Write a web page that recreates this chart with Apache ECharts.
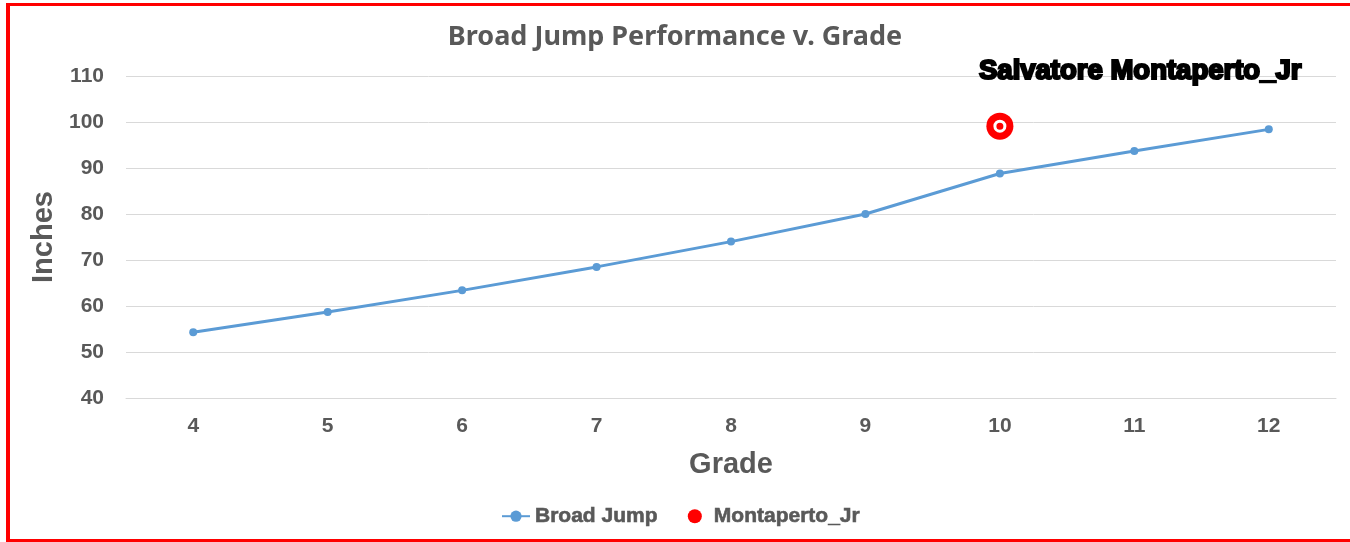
<!DOCTYPE html>
<html>
<head>
<meta charset="utf-8">
<script src="https://cdn.jsdelivr.net/npm/echarts@6/dist/echarts.min.js"></script>
<style>
    body { margin: 0; background: #fff; }
    #chart { position: absolute; left: 0; top: 0; width: 1350px; height: 542px; }
    #frame {
        position: absolute; left: 6px; top: 3px; width: 1342px; height: 533px;
        border-left: 4px solid #ff0000; border-top: 3px solid #ff0000; border-bottom: 3px solid #ff0000;
        border-right: 1px solid #fde4e4;
        pointer-events: none;
    }
</style>
</head>
<body>
<div id="chart"></div>
<div id="frame"></div>
<script>
var grades = ['4', '5', '6', '7', '8', '9', '10', '11', '12'];
var broadJump = [54.3, 58.7, 63.4, 68.5, 74.0, 80.0, 88.8, 93.7, 98.4];
var athleteGrade = '10';
var athleteJump = 99.1;

var textGray = '#595959';
var chartDom = document.getElementById('chart');
var myChart = echarts.init(chartDom);

var option = {
    title: [
        {
            text: 'Broad Jump Performance v. Grade',
            left: 'center',
            top: 19,
            textStyle: {
                fontFamily: 'Noto Sans',
                fontSize: 27,
                fontWeight: 'bold',
                color: textGray
            }
        },
        {
            text: 'Salvatore Montaperto_Jr',
            left: 974,
            top: 52,
            textStyle: {
                fontFamily: 'Liberation Sans',
                fontSize: 27.5,
                fontWeight: 'bold',
                color: '#000',
                textBorderColor: '#000',
                textBorderWidth: 2.2
            }
        }
    ],
    legend: {
        bottom: 10,
        left: 496,
        itemGap: 30,
        itemWidth: 28,
        itemHeight: 14,
        data: ['Broad Jump', 'Montaperto_Jr'],
        textStyle: {
            fontFamily: 'Liberation Sans',
            fontSize: 21,
            fontWeight: 'bold',
            color: textGray,
            textBorderColor: textGray,
            textBorderWidth: 0.6
        }
    },
    grid: {
        left: 126,
        right: 14,
        top: 76,
        bottom: 144
    },
    xAxis: {
        type: 'category',
        data: grades,
        name: 'Grade',
        nameLocation: 'middle',
        nameGap: 52,
        nameTextStyle: {
            fontFamily: 'Liberation Sans',
            fontSize: 29,
            fontWeight: 'bold',
            color: textGray
        },
        axisLine: { lineStyle: { color: '#d9d9d9' } },
        axisTick: { show: false },
        axisLabel: {
            margin: 18,
            fontFamily: 'Liberation Sans',
            fontSize: 21,
            fontWeight: 'bold',
            color: textGray
        }
    },
    yAxis: {
        type: 'value',
        min: 40,
        max: 110,
        interval: 10,
        name: 'Inches',
        nameLocation: 'middle',
        nameGap: 68,
        nameTextStyle: {
            fontFamily: 'Liberation Sans',
            fontSize: 29,
            fontWeight: 'bold',
            color: textGray
        },
        axisLine: { show: false },
        axisTick: { show: false },
        splitLine: { lineStyle: { color: '#d9d9d9', width: 1 } },
        axisLabel: {
            margin: 22,
            fontFamily: 'Liberation Sans',
            fontSize: 21,
            fontWeight: 'bold',
            color: textGray
        }
    },
    series: [
        {
            name: 'Broad Jump',
            type: 'line',
            data: broadJump,
            symbol: 'circle',
            symbolSize: 8,
            lineStyle: { color: '#5b9bd5', width: 3 },
            itemStyle: { color: '#5b9bd5' }
        },
        {
            name: 'Montaperto_Jr',
            type: 'scatter',
            data: [[athleteGrade, athleteJump]],
            symbol: 'circle',
            symbolSize: 27,
            itemStyle: { color: '#ff0000', opacity: 1 }
        },
        {
            name: 'ring',
            type: 'scatter',
            data: [[athleteGrade, athleteJump]],
            symbol: 'circle',
            symbolSize: 10,
            itemStyle: { color: '#ff0000', borderColor: '#ffffff', borderWidth: 3, opacity: 1 }
        }
    ]
};
option && myChart.setOption(option);
</script>
</body>
</html>
